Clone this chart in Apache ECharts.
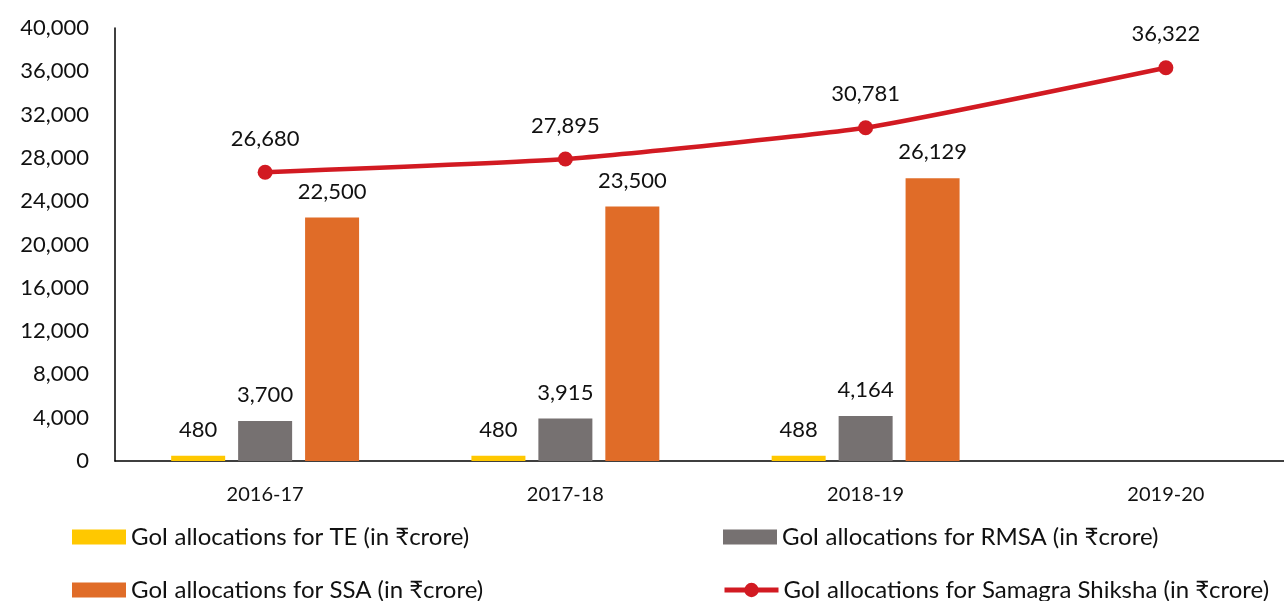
<!DOCTYPE html>
<html>
<head>
<meta charset="utf-8">
<script src="https://cdn.jsdelivr.net/npm/echarts@6/dist/echarts.min.js"></script>
<style>html,body{margin:0;padding:0;background:#fff;overflow:hidden;width:1284px;height:601px;}#c{width:1316px;height:601px;}</style>
</head>
<body>
<div id="c"></div>
<script>
const categories = ['2016-17', '2017-18', '2018-19', '2019-20'];
const teValues = [480, 480, 488, '-'];
const rmsaValues = [3700, 3915, 4164, '-'];
const ssaValues = [22500, 23500, 26129, '-'];
const samagraValues = [26680, 27895, 30781, 36322];
const seriesNames = [
  'GoI allocations for TE (in \u20B9crore)',
  'GoI allocations for RMSA (in \u20B9crore)',
  'GoI allocations for SSA (in \u20B9crore)',
  'GoI allocations for Samagra Shiksha (in \u20B9crore)'
];

const FONT = 'Lato, "Noto Sans", sans-serif';
const fmt = v => Number(v).toLocaleString('en-US');
const chart = echarts.init(document.getElementById('c'), null, {renderer: 'canvas'});

function legendAt(name, left, top, isLine) {
  const l = {
    data: [name], left: left, top: top, orient: 'horizontal',
    itemWidth: 54, itemHeight: 15, padding: 0, selectedMode: false,
    textStyle: {fontFamily: FONT, fontSize: 24, color: '#111'}
  };
  if (!isLine) l.icon = 'rect';
  else { l.itemHeight = 18; l.lineStyle = {width: 5}; }
  return l;
}

const barLabel = {
  show: true, position: 'top', distance: 15,
  fontFamily: FONT, fontSize: 22, color: '#111',
  formatter: p => fmt(p.value)
};

chart.setOption({
  animation: false,
  grid: {left: 115, right: 0, top: 28, bottom: 140, outerBoundsMode: 'none'},
  legend: [
    legendAt(seriesNames[0], 72, 525, false),
    legendAt(seriesNames[1], 723, 525, false),
    legendAt(seriesNames[2], 72, 578, false),
    legendAt(seriesNames[3], 722, 578, true)
  ],
  xAxis: {
    type: 'category', data: categories,
    axisLine: {lineStyle: {color: '#000', width: 1.5}},
    axisTick: {show: false},
    axisLabel: {fontFamily: FONT, fontSize: 20, color: '#111', margin: 24}
  },
  yAxis: {
    type: 'value', min: 0, max: 40000, interval: 4000,
    axisLine: {show: true, lineStyle: {color: '#000', width: 1.5}},
    axisTick: {show: false},
    splitLine: {show: false},
    axisLabel: {fontFamily: FONT, fontSize: 22, color: '#111', margin: 26, formatter: v => fmt(v)}
  },
  series: [
    {name: seriesNames[0], type: 'bar', data: teValues, barWidth: 54, barGap: '24%',
     itemStyle: {color: '#FFC800'}, label: barLabel},
    {name: seriesNames[1], type: 'bar', data: rmsaValues, barWidth: 54, barGap: '24%',
     itemStyle: {color: '#767171'}, label: barLabel},
    {name: seriesNames[2], type: 'bar', data: ssaValues, barWidth: 54, barGap: '24%',
     itemStyle: {color: '#E06C28'}, label: barLabel},
    {name: seriesNames[3], type: 'line', data: samagraValues, smooth: 0.15,
     symbol: 'circle', symbolSize: 15,
     lineStyle: {color: '#D21A22', width: 4.5}, itemStyle: {color: '#D21A22'},
     label: {show: true, position: 'top', distance: 15, fontFamily: FONT, fontSize: 22, color: '#111',
             formatter: p => fmt(p.value)}}
  ]
});
</script>
</body>
</html>
